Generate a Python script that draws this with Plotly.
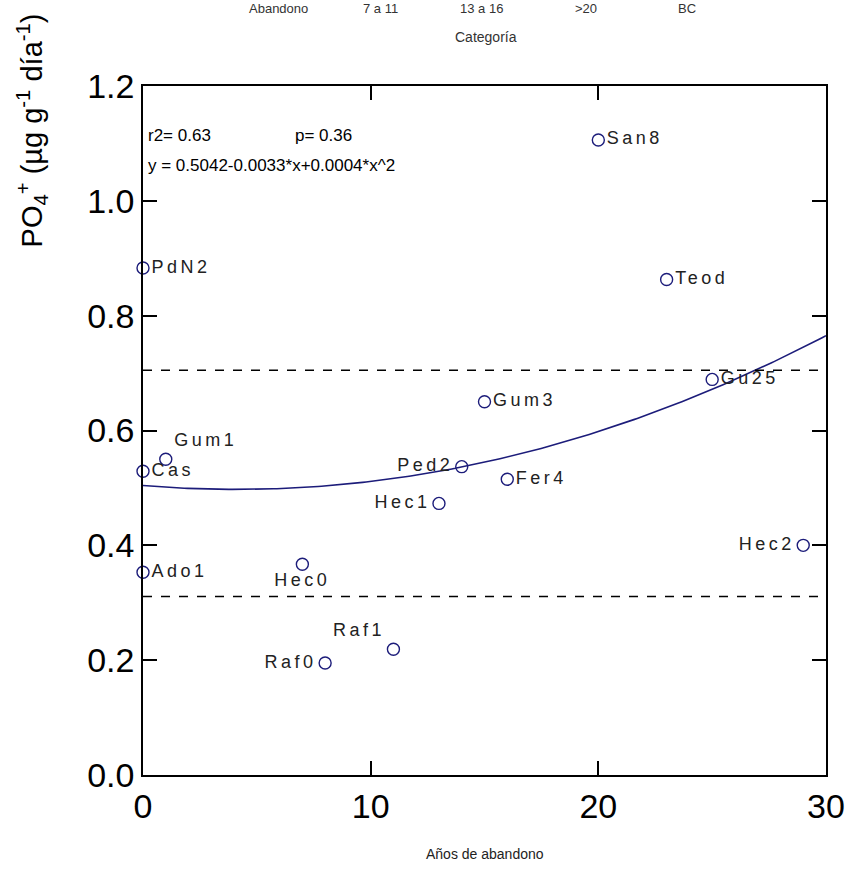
import numpy as np
import plotly.graph_objects as go

# Site data: years since abandonment vs phosphate release
sites = ["PdN2", "Cas", "Gum1", "Ado1", "Hec0", "Raf0", "Raf1", "Hec1",
         "Ped2", "Gum3", "Fer4", "San8", "Teod", "Gu25", "Hec2"]
years = [0, 0, 1, 0, 7, 8, 11, 13, 14, 15, 16, 20, 23, 25, 29]
po4 = [0.883, 0.529, 0.55, 0.353, 0.367, 0.195, 0.219, 0.473,
       0.537, 0.650, 0.515, 1.106, 0.863, 0.689, 0.40]
label_pos = ["middle right", "middle right", "top right", "middle right",
             "bottom center", "middle left", "top left", "middle left",
             "middle left", "middle right", "middle right", "middle right",
             "middle right", "middle right", "middle left"]

# Quadratic fit coefficients and reference band
fit_coef = [0.5042, -0.0033, 0.0004]
band_levels = [0.705, 0.311]

category_labels = ["Abandono", "7 a 11", "13 a 16", ">20", "BC"]

NAVY = "#1c1c7a"
FONT = "Liberation Sans, Arial, sans-serif"

fig = go.Figure()

xf = np.linspace(0, 30, 200)
yf = fit_coef[0] + fit_coef[1] * xf + fit_coef[2] * xf ** 2
fig.add_trace(go.Scatter(x=xf, y=yf, mode="lines",
                         line=dict(color=NAVY, width=1.6),
                         hoverinfo="skip", showlegend=False))

fig.add_trace(go.Scatter(
    x=years, y=po4, mode="markers+text",
    text=[f'<span style="letter-spacing:3.5px">{s}</span>' for s in sites],
    textposition=label_pos,
    textfont=dict(family=FONT, size=18, color="#222"),
    marker=dict(symbol="circle-open", size=12, color=NAVY,
                line=dict(width=1.4, color=NAVY)),
    cliponaxis=False, showlegend=False))

for lvl in band_levels:
    fig.add_hline(y=lvl, line=dict(color="black", width=1.6, dash="dash"))

stat_font = dict(family=FONT, size=17, color="black")
annotations = [
    dict(x=0.15, y=1.113, xref="x", yref="y", text="r2= 0.63",
         xanchor="left", yanchor="middle", showarrow=False, font=stat_font),
    dict(x=6.6, y=1.113, xref="x", yref="y", text="p= 0.36",
         xanchor="left", yanchor="middle", showarrow=False, font=stat_font),
    dict(x=0.15, y=1.061, xref="x", yref="y",
         text="y = 0.5042-0.0033*x+0.0004*x^2",
         xanchor="left", yanchor="middle", showarrow=False, font=stat_font),
    dict(x=0.5, y=-0.115, xref="paper", yref="paper", text="Años de abandono",
         xanchor="center", yanchor="middle", showarrow=False,
         font=dict(family=FONT, size=14, color="#222")),
]

# Y axis title, rotated
annotations.append(dict(
    x=-0.163, y=0.935, xref="paper", yref="paper",
    text="PO<sub>4</sub><sup>+</sup> (µg g<sup>-1</sup> día<sup>-1</sup>)",
    textangle=-90, xanchor="center", yanchor="middle", showarrow=False,
    font=dict(family=FONT, size=29, color="black")))

# Category header from the panel above
cat_x = [0.198, 0.347, 0.495, 0.648, 0.796]
for cx, lab in zip(cat_x, category_labels):
    annotations.append(dict(x=cx, y=1.112, xref="paper", yref="paper", text=lab,
                            xanchor="center", yanchor="middle", showarrow=False,
                            font=dict(family=FONT, size=13, color="#333")))
annotations.append(dict(x=0.502, y=1.071, xref="paper", yref="paper",
                        text="Categoría", xanchor="center", yanchor="middle",
                        showarrow=False,
                        font=dict(family=FONT, size=14, color="#333")))

fig.update_layout(
    width=857, height=871,
    margin=dict(l=143, r=23, t=86, b=96),
    paper_bgcolor="white", plot_bgcolor="white",
    annotations=annotations,
    font=dict(family=FONT),
)

fig.update_xaxes(range=[0, 30], tickvals=[0, 10, 20, 30],
                 ticks="inside", ticklen=14, tickwidth=1.5, tickcolor="black",
                 showline=True, linecolor="black", linewidth=1.6, mirror="ticks",
                 showgrid=False, zeroline=False,
                 tickfont=dict(family=FONT, size=34, color="black"))
fig.update_yaxes(range=[0, 1.2], tickvals=[0, 0.2, 0.4, 0.6, 0.8, 1.0, 1.2],
                 tickformat=".1f",
                 ticks="inside", ticklen=14, tickwidth=1.5, tickcolor="black",
                 showline=True, linecolor="black", linewidth=1.6, mirror="ticks",
                 showgrid=False, zeroline=False,
                 tickfont=dict(family=FONT, size=34, color="black"))

fig.write_html("out.html")
